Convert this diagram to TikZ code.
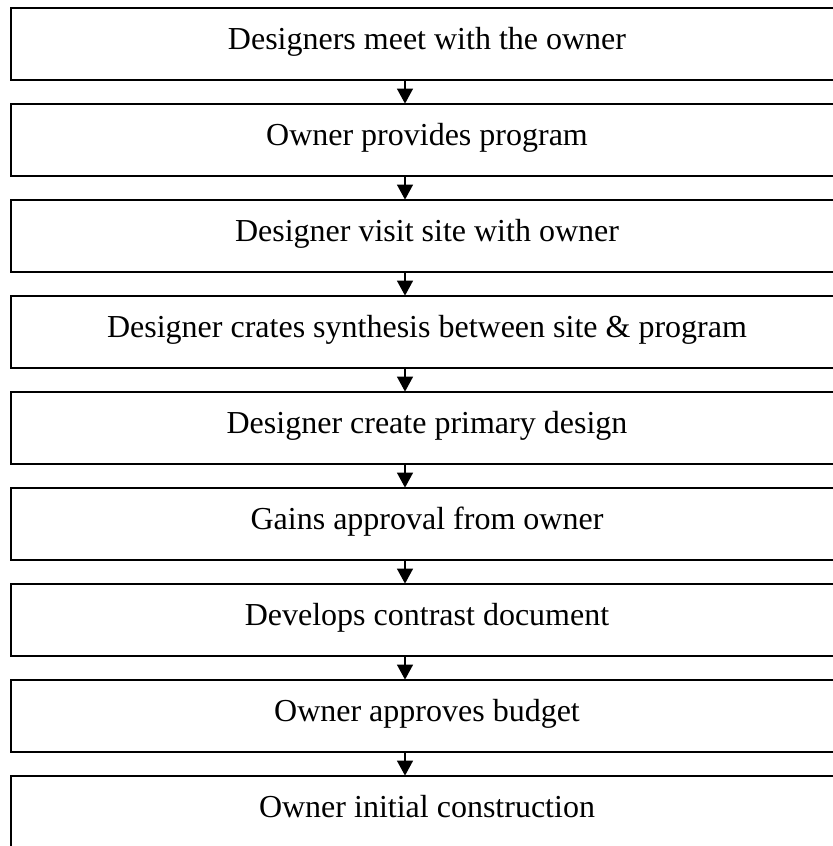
\documentclass[tikz,border=0pt]{standalone}
\usepackage{fontspec}
\setmainfont{Liberation Serif}
\usetikzlibrary{arrows.meta}
\tikzset{
  stepbox/.style={draw=black, line width=0.9pt, minimum width=416pt, minimum height=36pt, inner sep=0pt, outer sep=0pt},
  steptext/.style={anchor=base, inner sep=0pt, font=\fontsize{16}{19}\selectfont},
  arr/.style={line width=0.65pt, -{Triangle[length=7.5pt,width=8pt]}, shorten >=0.2pt}
}
\begin{document}
\begin{tikzpicture}[x=0.5pt,y=-0.5pt]
\useasboundingbox (0,0) rectangle (833,846);
\clip (0,0) rectangle (833,846);
\foreach \i/\t in {1/Designers meet with the owner,
                   2/Owner provides program,
                   3/Designer visit site with owner,
                   4/Designer crates synthesis between site \& program,
                   5/Designer create primary design,
                   6/Gains approval from owner,
                   7/Develops contrast document,
                   8/Owner approves budget,
                   9/Owner initial construction}{
  \pgfmathsetmacro{\top}{8+96*(\i-1)}
  \node[stepbox] (b\i) at (427,\top+36) {};
  \node[steptext] (t\i) at (427,\top+41) {\t};
}
\foreach \i [evaluate=\i as \j using int(\i+1)] in {1,...,8}{
  \draw[arr] ([xshift=-11pt]b\i.south) -- ([xshift=-11pt]b\j.north);
}
\end{tikzpicture}
\end{document}
